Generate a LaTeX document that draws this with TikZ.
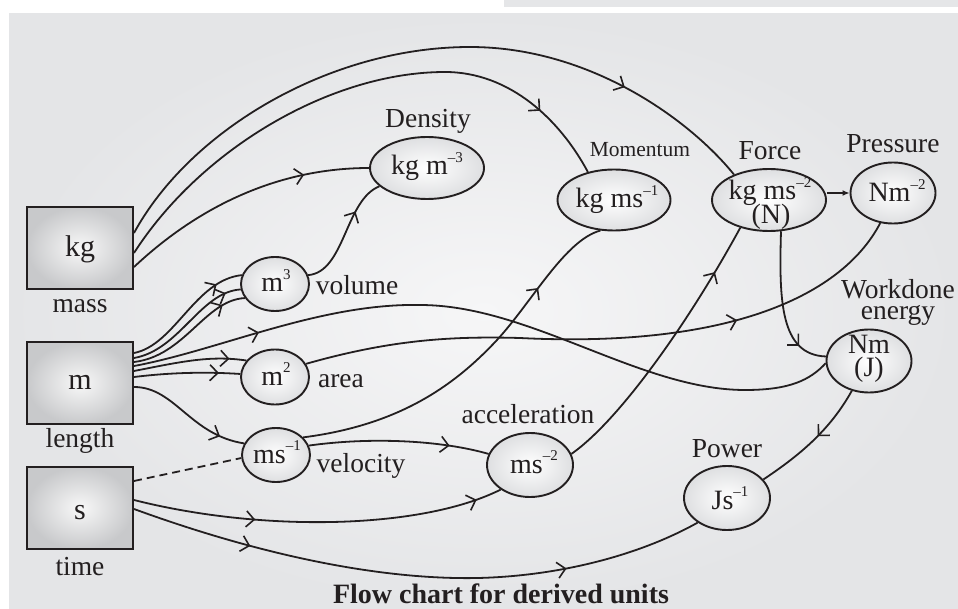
\documentclass[tikz,border=0pt]{standalone}
\usepackage{fontspec}
\setmainfont{Liberation Serif}
\usetikzlibrary{arrows.meta,decorations.markings,shapes.geometric,calc}
\definecolor{inkc}{RGB}{35,31,32}
\definecolor{panelin}{RGB}{246,246,247}
\definecolor{panelout}{RGB}{228,229,231}
\definecolor{barc}{RGB}{229,230,232}
\definecolor{boxin}{RGB}{248,248,248}
\definecolor{boxout}{RGB}{200,201,203}
\definecolor{ellin}{RGB}{255,255,255}
\definecolor{ellout}{RGB}{222,223,225}
\newcommand{\supx}[1]{\raisebox{0.45em}{\fontsize{15}{15}\selectfont #1}}
\begin{document}
\begin{tikzpicture}[x=1pt,y=-1pt,
  conn/.style={line width=1.8pt, draw=inkc},
  midarr/.style={postaction={decorate,decoration={markings,mark=at position #1 with {\arrow[inkc]{Straight Barb[length=8pt,width=16pt,line width=1.6pt]}}}}},
  unitbox/.style={draw=inkc, line width=2pt, minimum width=106pt, minimum height=82pt, inner sep=0pt, inner color=boxin, outer color=boxout},
  unitell/.style={ellipse, draw=inkc, line width=1.9pt, inner sep=0pt, inner color=ellin, outer color=ellout},
  lbl/.style={font=\fontsize{27.5}{21}\selectfont, inner sep=0pt, align=center, text=inkc, anchor=base},
  etxt/.style={font=\fontsize{28}{28}\selectfont, inner sep=0pt, text=inkc, anchor=base}
]
\useasboundingbox (0,0) rectangle (958,609);
\fill[white] (0,0) rectangle (958,609);
\fill[barc] (504,0) rectangle (958,7);
\shade[inner color=panelin, outer color=panelout] (9,14) rectangle (958,609);

% boxes
\node[unitbox] (kg) at (80,248) {};
\node[unitbox] (m) at (80,383) {};
\node[unitbox] (s) at (80,508) {};
\node[lbl, font=\fontsize{30}{30}\selectfont] (kgt) at (80,257) {kg};
\node[lbl, font=\fontsize{30}{30}\selectfont] (mt) at (80,389) {m};
\node[lbl, font=\fontsize{30}{30}\selectfont] (st) at (80,519) {s};
\node[lbl] (mass) at (80,313) {mass};
\node[lbl] (length) at (80,447) {length};
\node[lbl] (time) at (80,575) {time};

% ellipses
\node[unitell, minimum width=114pt, minimum height=62pt] (dens) at (427,168) {};
\node[unitell, minimum width=68pt, minimum height=54pt] (vol) at (275,284) {};
\node[unitell, minimum width=68pt, minimum height=55pt] (area) at (275,377) {};
\node[unitell, minimum width=68pt, minimum height=54pt] (vel) at (276,455) {};
\node[unitell, minimum width=86pt, minimum height=64pt] (acc) at (530,465) {};
\node[unitell, minimum width=86pt, minimum height=64pt] (pow) at (727,498) {};
\node[unitell, minimum width=85pt, minimum height=63pt] (work) at (869,361) {};
\node[unitell, minimum width=113pt, minimum height=61pt] (mom) at (614,200) {};
\node[unitell, minimum width=114pt, minimum height=62pt] (force) at (769,200) {};
\node[unitell, minimum width=85pt, minimum height=61pt] (press) at (893,193) {};

% texts inside ellipses
\node[etxt] (tdens) at (427,175) {kg m\supx{–3}};
\node[etxt] (tvol) at (276,292) {m\supx{3}};
\node[etxt] (tarea) at (276,385) {m\supx{2}};
\node[etxt] (tvel) at (277,463) {ms\supx{–1}};
\node[etxt] (tacc) at (534,473) {ms\supx{–2}};
\node[etxt] (tpow) at (730,509) {Js\supx{–1}};
\node[etxt] (twork1) at (869,354) {Nm};
\node[etxt] (twork2) at (869,377) {(J)};
\node[etxt] (tmom) at (617,208) {kg ms\supx{–1}};
\node[etxt] (tforce1) at (770,200) {kg ms\supx{–2}};
\node[etxt] (tforce2) at (771,224) {(N)};
\node[etxt] (tpress) at (897,202) {Nm\supx{–2}};

% labels
\node[lbl] (ldens) at (428,128) {Density};
\node[lbl, font=\fontsize{21.5}{21.5}\selectfont] (lmom) at (640,157) {Momentum};
\node[lbl] (lforce) at (770,160) {Force};
\node[lbl] (lpress) at (893,153) {Pressure};
\node[lbl] (lvol) at (357,295) {volume};
\node[lbl] (larea) at (341,387) {area};
\node[lbl] (lvel) at (361,472) {velocity};
\node[lbl] (lacc) at (528,423) {acceleration};
\node[lbl] (lpow) at (727,457) {Power};
\node[lbl] (lwork1) at (898,299) {Workdone};
\node[lbl] (lwork2) at (898,320) {energy};
\node[lbl, font=\bfseries\fontsize{28}{28}\selectfont] (title) at (501,603) {Flow chart for derived units};

% connectors from kg
\draw[conn, midarr=0.8] ([yshift=15pt]kg.east) .. controls (190,130) and (330,47) .. (470,47) .. controls (590,47) and (690,120) .. (force.144);
\draw[conn, midarr=0.86] ([yshift=-5pt]kg.east) .. controls (200,150) and (330,72) .. (445,72) .. controls (510,72) and (560,120) .. (mom.133);
\draw[conn, midarr=0.75] ([yshift=-19pt]kg.east) .. controls (200,205) and (280,168) .. (dens.west);
% volume -> density
\draw[conn, midarr=0.7] (vol.15) .. controls (345,272) and (345,200) .. (dens.201);
% m -> volume
\draw[conn, midarr=0.8] ([yshift=30pt]m.east) .. controls (175,345) and (195,280) .. (vol.165);
\draw[conn, midarr=0.88] ([yshift=25pt]m.east) .. controls (180,350) and (200,292) .. (vol.189);
\draw[conn, midarr=0.82] ([yshift=21pt]m.east) .. controls (185,356) and (205,300) .. (vol.205);
% m -> work
\draw[conn, midarr=0.18] ([yshift=17pt]m.east) .. controls (220,350) and (320,303) .. (420,305) .. controls (530,305) and (640,390) .. (745,390) .. controls (790,390) and (810,380) .. (work.183);
% m -> area
\draw[conn, midarr=0.85] ([yshift=12pt]m.east) .. controls (180,362) and (210,355) .. (area.150);
\draw[conn, midarr=0.8] ([yshift=6pt]m.east) .. controls (175,372) and (210,372) .. (area.175);
% m -> velocity
\draw[conn, midarr=0.8] ([yshift=-4pt]m.east) .. controls (175,387) and (190,435) .. (vel.160);
% s dashed -> velocity
\draw[conn, dash pattern=on 8pt off 5pt] ([yshift=27pt]s.east) -- (vel.185);
% velocity -> momentum
\draw[conn, midarr=0.77] (vel.33) .. controls (400,425) and (455,385) .. (497,340) .. controls (532,302) and (565,240) .. (mom.246);
% area -> pressure
\draw[conn, midarr=0.71] (area.23) .. controls (390,340) and (450,336) .. (520,338) .. controls (720,348) and (840,300) .. (press.247);
% force -> pressure
\draw[conn, -{Latex[length=7pt,width=6pt]}] (force.east |- press.west) -- (press.west);
% force -> work
\draw[conn, midarr=0.8] (force.291) .. controls (779,300) and (780,355) .. (work.174);
% acceleration -> force
\draw[conn, midarr=0.82] (acc.15) .. controls (620,420) and (690,320) .. (force.224);
% velocity -> acceleration
\draw[conn, midarr=0.78] (vel.16) .. controls (370,437) and (440,440) .. (acc.165);
% s -> acceleration
\draw[conn, midarr=0.33, midarr=0.93] ([yshift=8pt]s.east) .. controls (260,532) and (420,530) .. (acc.220);
% s -> power
\draw[conn, midarr=0.21, midarr=0.76] ([yshift=-1pt]s.east) .. controls (260,555) and (380,580) .. (478,578) .. controls (560,576) and (640,555) .. (pow.220);
% work -> power
\draw[conn, midarr=0.45] (work.240) .. controls (830,430) and (800,455) .. (pow.27);
\end{tikzpicture}
\end{document}
